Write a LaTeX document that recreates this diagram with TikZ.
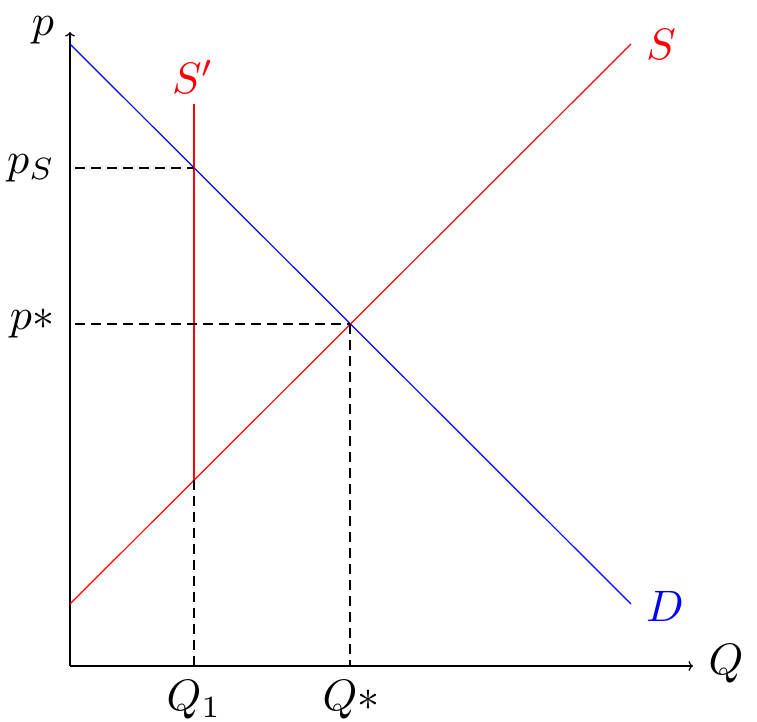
\documentclass[tikz,border=0pt]{standalone}
\usetikzlibrary{arrows.meta}
\begin{document}
\begin{tikzpicture}[x=1pt,y=-1pt,
  lab/.style={inner sep=0pt,scale=4.4},
  axis/.style={line width=1.2pt,black,-{To[length=4.5pt,width=10pt]}},
  curve/.style={line width=1.2pt},
  guide/.style={line width=1.2pt,black,dash pattern=on 10pt off 6pt}]
\useasboundingbox (0,0) rectangle (757,722);
% coordinates
\coordinate (O) at (70,666);
\coordinate (Ytop) at (70,32);
\coordinate (Xend) at (693,666);
\coordinate (D1) at (70,44);
\coordinate (D2) at (631,604);
\coordinate (S1) at (70,604);
\coordinate (S2) at (631,44);
\coordinate (Sp1) at (194,104);
\coordinate (Sp2) at (194,480);
\coordinate (PS) at (194,168);
\coordinate (E) at (350,324);
\coordinate (PSaxis) at (75,168);
\coordinate (PEaxis) at (75,324);
\coordinate (Q1axis) at (194,666);
\coordinate (QEaxis) at (350,666);
% axes
\draw[axis] (O) -- (Ytop);
\draw[axis] (O) -- (Xend);
% curves
\draw[curve,blue] (D1) -- (D2);
\draw[curve,red] (S1) -- (S2);
\draw[curve,red] (Sp1) -- (Sp2);
% guides
\draw[guide] (PSaxis) -- (PS);
\draw[guide] (PEaxis) -- (E);
\draw[guide] (Sp2) -- (Q1axis);
\draw[guide] (E) -- (QEaxis);
% labels
\node[lab] (lp) at (43,30) {$p$};
\node[lab] (lps) at (31,168) {$p_S$};
\node[lab] (lpe) at (32,324) {$p*$};
\node[lab] (lq1) at (194,700) {$Q_1$};
\node[lab] (lqe) at (351,700) {$Q*$};
\node[lab] (lq) at (726,664) {$Q$};
\node[lab,red] (ls) at (661,44) {$S$};
\node[lab,blue] (ld) at (665,606) {$D$};
\node[lab,red] (lsp) at (193,77) {$S'$};
\end{tikzpicture}
\end{document}
